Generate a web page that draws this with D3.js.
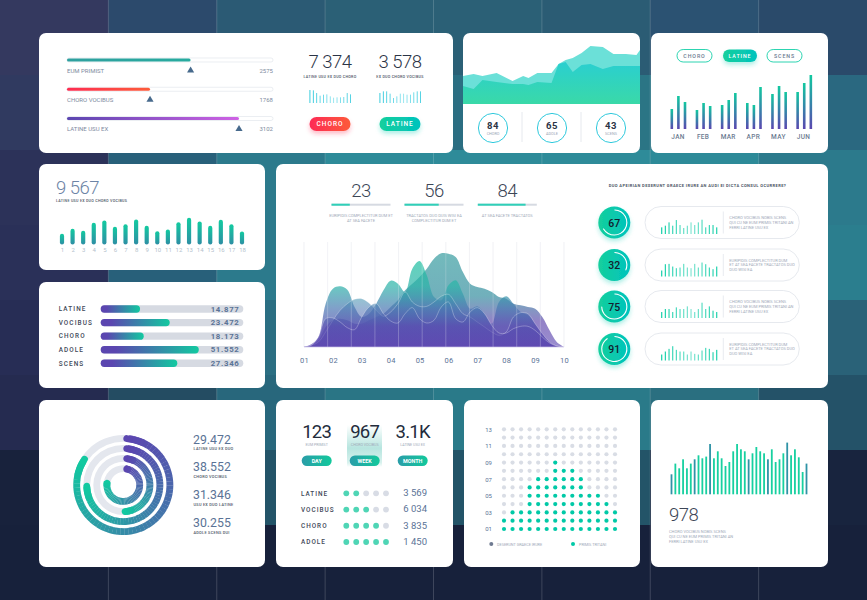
<!DOCTYPE html>
<html>
<head>
<meta charset="utf-8">
<script src="https://cdn.jsdelivr.net/npm/d3@7"></script>
<style>
  html, body { margin: 0; padding: 0; background: #1b2642; }
  svg { display: block; }
  text { font-family: Roboto, "Noto Sans", sans-serif; }
</style>
</head>
<body>
<div id="chart"></div>
<script>
// ---- data ----
const bgTiles = [
  ["#34395f", "#2c4a6c", "#2b5a74", "#2b6076", "#2b6076", "#2b5c74", "#2b5272", "#2a4a6a"],
  ["#303a60", "#2b4f6f", "#2b6279", "#2b6b80", "#2b6e82", "#2b7585", "#2b7a8a", "#2a6880"],
  ["#2c3259", "#28607a", "#2c7a8c", "#2e8b99", "#2e8b99", "#2e8b99", "#2d8a98", "#2c7a8c"],
  ["#2a3058", "#28607a", "#2c7a8c", "#2e8594", "#2e8895", "#2e8895", "#2d8592", "#2b7e8e"],
  ["#272d55", "#275a72", "#2b6e82", "#2b7a8a", "#2b7c8b", "#2b7c8b", "#2b7586", "#2a6278"],
  ["#252b50", "#244c62", "#28677c", "#2a7585", "#2a7a89", "#2a7a89", "#2a6f80", "#245268"],
  ["#18223c", "#18223c", "#235468", "#235468", "#235468", "#235468", "#18243e", "#18243e"],
  ["#17213b", "#17213b", "#17213b", "#17213b", "#17213b", "#17213b", "#17213b", "#17213b"]
];

const slideLabels = ["EUM PRIMIST", "CHORO VOCIBUS", "LATINE USU EX"];
const slideValues = [2575, 1768, 3102];
const slideFill = [60, 40.3, 83.5];
const topStats = ["7 374", "3 578"];
const topStatLabels = ["LATINE USU EX DUO CHORO", "EX DUO CHORO VOCIBUS"];
const topSparkA = [39, 38, 30, 22, 25, 26, 20, 16, 17, 17, 18, 30, 26];
const topSparkB = [30, 35, 35, 28, 15, 20, 28, 28, 25, 25, 32, 35, 35];
const topButtons = ["CHORO", "LATINE"];

const waveX = [0, 6, 11, 19, 28, 34, 37, 42, 50, 54, 58, 62, 67, 72, 79, 85, 86, 92, 98, 100];
const waveBack = [28, 30, 28, 31, 23, 28, 26, 31, 31, 40, 44, 46, 51, 58, 57, 50, 50, 50, 49, 54];
const waveFront = [18, 15, 24, 22, 20, 20, 19, 22, 21, 40, 42, 32, 39, 40, 35, 38, 38, 38, 38, 38];
const gaugeValues = [84, 65, 43];
const gaugeLabels = ["CHORO", "ADOLE", "SCENS"];

const pillLabels = ["CHORO", "LATINE", "SCENS"];
const months = ["JAN", "FEB", "MAR", "APR", "MAY", "JUN"];
const monthA = [20, 19, 24, 26, 35, 37];
const monthB = [33, 26, 29, 24, 43, 46];
const monthC = [27, 23, 36, 42, 37, 54];

const dayTotal = "9 567";
const dayTotalLabel = "LATINE USU EX DUO CHORO VOCIBUS";
const dayNumbers = d3.range(1, 19);
const dayValues = [10.7, 15.7, 13.7, 21.7, 24, 17.7, 20.3, 25, 18.7, 13.3, 15, 22.3, 26.7, 23, 18.7, 24.7, 20.3, 13];

const rankLabels = ["LATINE", "VOCIBUS", "CHORO", "ADOLE", "SCENS"];
const rankValues = ["14.877", "23.472", "18.173", "51.552", "27.346"];
const rankFill = [27.6, 48.4, 30.2, 68.8, 53.7];

const headStats = [23, 56, 84];
const headFill = [31, 58, 81];
const headCaptions = [
  ["EURIPIDIS COMPLECTITUR DUM ET", "AT SEA FACETE"],
  ["TRACTATOS DUO DUIS WISI EA", "COMPLECTITUR DUM ET"],
  ["AT SEA FACETE TRACTATOS"]
];

// main chart, sampled every quarter of an axis step
const mainTicks = ["01", "02", "03", "04", "05", "06", "07", "08", "09", "10"];
const mainU = d3.range(37).map(i => 1 + i / 4);
const mainS1 = [0, 5, 20, 60, 80, 85, 80, 70, 70, 80, 90, 100, 120, 140, 170, 190, 210, 235, 265, 281, 280, 270, 225, 190, 180, 175, 165, 150, 145, 130, 125, 120, 115, 90, 50, 15, 0];
const mainS2 = [0, 8, 30, 130, 175, 182, 172, 120, 90, 100, 130, 170, 199, 190, 165, 235, 258, 215, 150, 140, 185, 200, 160, 115, 122, 100, 70, 135, 152, 130, 105, 95, 70, 40, 15, 3, 0];
const mainS3 = [0, 5, 15, 45, 80, 110, 130, 143, 145, 132, 110, 92, 105, 130, 165, 135, 122, 122, 135, 152, 158, 130, 100, 90, 75, 60, 45, 35, 45, 90, 103, 100, 70, 40, 15, 3, 0];
const mainS4 = [0, 5, 30, 85, 87, 75, 58, 52, 90, 120, 130, 100, 78, 72, 100, 118, 85, 72, 80, 120, 135, 85, 75, 105, 118, 100, 65, 42, 42, 55, 62, 62, 50, 30, 12, 3, 0];

const question = "DUO APEIRIAN DESERUNT GRAECE IRURE AN AUDI EI DICTA CONSUL OCURRERE?";
const ringValues = [67, 32, 75, 91];
const ringSparks = [
  [20, 25, 35, 25, 42, 27, 18, 25, 35, 27, 35, 43, 20, 27, 27, 20],
  [18, 37, 38, 30, 25, 27, 38, 27, 25, 38, 27, 42, 37, 27, 22, 30],
  [18, 27, 27, 18, 32, 27, 27, 35, 27, 18, 27, 46, 27, 35, 22, 18],
  [18, 27, 35, 43, 32, 27, 27, 18, 27, 20, 18, 30, 38, 35, 25, 32]
];
const ringNotes = [
  ["CHORO VOCIBUS NOBIS SCENS", "QUI CU NE EUM PRIMIS TRITANI AN", "FERRI LATINE USU EX"],
  ["EURIPIDIS COMPLECTITUR DUM", "ET AT SEA FACETE TRACTATOS DUO", "DUO WISI EA"],
  ["CHORO VOCIBUS NOBIS SCENS", "QUI CU NE EUM PRIMIS TRITANI AN", "FERRI LATINE USU EX"],
  ["EURIPIDIS COMPLECTITUR DUM", "ET AT SEA FACETE TRACTATOS DUO", "DUO WISI EA"]
];

const donutPct = [85.5, 76, 51, 80];
const donutValues = ["29.472", "38.552", "31.346", "30.255"];
const donutLabels = ["LATINE USU EX DUO", "CHORO VOCIBUS", "USU EX DUO LATINE", "ADOLE SCENS DUI"];

const periodValues = ["123", "967", "3.1K"];
const periodLabels = ["EUM PRIMIST", "CHORO VOCIBUS", "LATINE USU EX"];
const periodNames = ["DAY", "WEEK", "MONTH"];
const scoreLabels = ["LATINE", "VOCIBUS", "CHORO", "ADOLE"];
const scoreDots = [2, 3, 4, 5];
const scoreValues = ["3 569", "6 034", "3 835", "1 450"];

const gridRows = d3.range(1, 14);
const gridCols = d3.range(14);
const gridRowLabels = ["01", "03", "05", "07", "09", "11", "13"];
const gridFrom = [0, 0, 1, 3, 3, 3, 4, 6, 6, 99, 99, 99, 99];
const gridTo = [13, 13, 13, 12, 11, 9, 9, 8, 6, -1, -1, -1, -1];
const gridLegend = ["DESERUNT GRAECE IRURE", "PRIMIS TRITANI"];

const lastValues = [20, 30.7, 26, 35, 26, 30.7, 35, 39, 36, 37.7, 50.3, 36, 43, 36, 28.3, 32.3, 43, 50.3, 45, 43, 35, 41, 47.3, 43, 41, 35, 45, 32.3, 35, 41, 51.7, 39, 45, 37, 22.3, 30.7];
const lastDark = [0, 6, 10, 20, 25, 30, 35];
const lastTotal = "978";
const lastNote = ["CHORO VOCIBUS NOBIS SCENS", "QUI CU NE EUM PRIMIS TRITANI AN", "FERRI LATINE USU EX"];

// ---- palette ----
const purple = "#5b46b0", teal = "#12c9a0", cyan = "#18c3d8", slate = "#5a7396", ink = "#2b3446", mute = "#a0a9b8", track = "#d6dae2";

const svg = d3.select("#chart").append("svg").attr("width", 867).attr("height", 600);
const defs = svg.append("defs");

function linear(id, x1, y1, x2, y2, stops, user) {
  const g = defs.append("linearGradient").attr("id", id)
    .attr("x1", x1).attr("y1", y1).attr("x2", x2).attr("y2", y2);
  if (user) g.attr("gradientUnits", "userSpaceOnUse");
  stops.forEach(s => g.append("stop").attr("offset", s[0]).attr("stop-color", s[1]).attr("stop-opacity", s[2] === undefined ? 1 : s[2]));
}
linear("g-teal-bar", 0, 0, 0, 1, [[0, "#12cba0"], [1, "#2e8ea4"]]);
linear("g-month", 0, 0, 0, 1, [[0, teal], [0.45, "#2f8fa8"], [1, purple]]);
linear("g-rank", 0, 0, 1, 0, [[0.15, purple], [1, teal]]);
linear("g-red", 0, 0, 1, 0, [[0, "#fd2a55"], [1, "#fd5a3a"]]);
linear("g-green", 0, 0, 1, 0, [[0, "#14cf9c"], [1, "#00c3be"]]);
linear("g-slide0", 0, 0, 1, 0, [[0, "#2fa09f"], [1, "#27ab9f"]]);
linear("g-slide1", 0, 0, 1, 0, [[0, "#fd2c50"], [1, "#fd5c3a"]]);
linear("g-slide2", 0, 0, 1, 0, [[0, purple], [1, "#cf62e4"]]);
linear("g-wave", 0, 0, 0, 1, [[0, "#2acfd0"], [1, "#3ad9a8"]]);
linear("g-period", 0, 0, 0, 1, [[0, "#ffffff"], [0.55, "#b7e5df"], [0.9, "#d8f2ee"], [1, "#ffffff"]]);
linear("g-btn", 0, 0, 1, 0, [[0, "#2a9da8"], [1, "#12c99c"]]);
linear("g-main-back", 0, 245, 0, 347, [[0, "#1d9393"], [0.5, "#1a7f92"], [0.75, "#5136a5"], [1, purple]], true);
linear("g-main", 0, 245, 0, 347, [[0, "#12c79a"], [0.4, "#2bb3a8"], [0.62, "#4a78b2"], [0.8, "#5650b0"], [1, purple]], true);

const shadow = defs.append("filter").attr("id", "soft").attr("x", "-30%").attr("y", "-30%").attr("width", "160%").attr("height", "190%");
shadow.append("feDropShadow").attr("dx", 0).attr("dy", 3).attr("stdDeviation", 2).attr("flood-color", "#2ad3bd").attr("flood-opacity", 0.35);
const shadowRed = defs.append("filter").attr("id", "soft-red").attr("x", "-30%").attr("y", "-30%").attr("width", "160%").attr("height", "190%");
shadowRed.append("feDropShadow").attr("dx", 0).attr("dy", 3).attr("stdDeviation", 2).attr("flood-color", "#fd2c50").attr("flood-opacity", 0.3);

function label(g, x, y, str, size, color, opt) {
  opt = opt || {};
  return g.append("text").attr("x", x).attr("y", y).attr("dy", "0.35em")
    .attr("text-anchor", opt.anchor || "start")
    .attr("font-size", size).attr("font-weight", opt.weight || 400)
    .attr("letter-spacing", opt.spacing || 0)
    .attr("fill", color).text(str);
}

// ---- background tiles ----
const bgX = d3.scaleBand().domain(d3.range(8)).range([0, 867]);
const bgY = d3.scaleBand().domain(d3.range(8)).range([0, 600]);
bgTiles.forEach((row, r) => {
  svg.append("g").selectAll("rect").data(row).enter().append("rect")
    .attr("x", (d, c) => bgX(c)).attr("y", bgY(r))
    .attr("width", bgX.bandwidth() + 0.5).attr("height", bgY.bandwidth() + 0.5)
    .attr("fill", d => d);
});
svg.append("g").selectAll("line").data(d3.range(1, 8)).enter().append("line")
  .attr("x1", d => bgX(d)).attr("x2", d => bgX(d)).attr("y1", 0).attr("y2", 600)
  .attr("stroke", "#fff").attr("stroke-opacity", 0.22).attr("stroke-width", 0.8);

// ---- cards ----
const cardBoxes = [
  [39, 33, 414, 120], [463, 33, 177, 120], [651, 33, 177, 120],
  [39, 164, 226, 106], [39, 282, 226, 106], [276, 164, 552, 224],
  [39, 400, 226, 167], [276, 400, 177, 167], [464, 400, 176, 167], [651, 400, 177, 167]
];
svg.append("g").selectAll("rect").data(cardBoxes).enter().append("rect")
  .attr("x", d => d[0]).attr("y", d => d[1]).attr("width", d => d[2]).attr("height", d => d[3])
  .attr("rx", 7).attr("fill", "#fff");

// ---- card 1: sliders and two stats ----
const c1 = svg.append("g");
const slideX = d3.scaleLinear().domain([0, 100]).range([67, 273]);
const slideY = d3.scalePoint().domain(slideLabels).range([60, 118.5]);
slideLabels.forEach((name, i) => {
  const y = slideY(name);
  c1.append("rect").attr("x", slideX(0)).attr("y", y - 2).attr("width", slideX(100) - slideX(0)).attr("height", 4)
    .attr("rx", 2).attr("fill", "#fff").attr("stroke", "#e3e6ec").attr("stroke-width", 0.7);
  c1.append("rect").attr("x", slideX(0)).attr("y", y - 1.6).attr("width", slideX(slideFill[i]) - slideX(0)).attr("height", 3.2)
    .attr("rx", 1.6).attr("fill", "url(#g-slide" + i + ")");
  label(c1, slideX(0), y + 10.5, name, 6, "#7e8ba0");
  label(c1, slideX(100), y + 10.5, slideValues[i], 6, "#7e8ba0", { anchor: "end" });
  const tx = slideX(slideFill[i]);
  c1.append("path").attr("transform", "translate(" + tx + "," + (y + 10.5) + ")")
    .attr("d", d3.symbol(d3.symbolTriangle, 22)).attr("fill", "#476a8c");
});
const topStatX = [330, 400];
topStats.forEach((s, i) => {
  const x = topStatX[i];
  label(c1, x, 62, s, 18.5, ink, { anchor: "middle", weight: 300, spacing: -0.5 });
  label(c1, x, 76.5, topStatLabels[i], 3.7, "#4b5565", { anchor: "middle", weight: 500, spacing: 0.25 });
  const spark = i === 0 ? topSparkA : topSparkB;
  const sx = d3.scaleBand().domain(d3.range(spark.length)).range([x - 20.5, x + 21]).paddingInner(0.75);
  const sy = d3.scaleLinear().domain([0, 39]).range([103, 90]);
  c1.append("g").selectAll("rect").data(spark).enter().append("rect")
    .attr("x", (d, j) => sx(j)).attr("y", d => sy(d)).attr("width", sx.bandwidth()).attr("height", d => 103 - sy(d))
    .attr("fill", (d, j) => d3.interpolateRgb(cyan, "#8ae2ee")(1 - Math.abs(j - 7) / 7));
  c1.append("rect").attr("x", x - 20.5).attr("y", 117).attr("width", 41).attr("height", 14).attr("rx", 7)
    .attr("fill", i === 0 ? "url(#g-red)" : "url(#g-green)")
    .attr("filter", i === 0 ? "url(#soft-red)" : "url(#soft)");
  label(c1, x, 123.8, topButtons[i], 6.5, "#fff", { anchor: "middle", weight: 500, spacing: 1 });
});

// ---- card 2: stacked wave and gauges ----
const c2 = svg.append("g");
c2.append("clipPath").attr("id", "clip-wave").append("rect").attr("x", 463).attr("y", 33).attr("width", 177).attr("height", 80);
const waveSx = d3.scaleLinear().domain([0, 100]).range([463, 640]);
const waveSy = d3.scaleLinear().domain([0, 60]).range([104, 44]);
const waveArea = vals => d3.area().x((d, i) => waveSx(waveX[i])).y0(waveSy(0)).y1(d => waveSy(d))(vals);
c2.append("path").attr("d", waveArea(waveBack)).attr("fill", "#6be0d8").attr("clip-path", "url(#clip-wave)");
c2.append("path").attr("d", waveArea(waveFront)).attr("fill", "url(#g-wave)").attr("clip-path", "url(#clip-wave)");
const gaugeX = d3.scalePoint().domain(gaugeLabels).range([493, 611]);
gaugeLabels.forEach((name, i) => {
  const x = gaugeX(name);
  c2.append("circle").attr("cx", x).attr("cy", 128).attr("r", 14.6).attr("fill", "#fff").attr("stroke", cyan).attr("stroke-width", 0.9);
  label(c2, x, 126, gaugeValues[i], 9.5, ink, { anchor: "middle", weight: 700, spacing: 0.6 });
  label(c2, x, 133.5, name, 3.8, "#9aa5b5", { anchor: "middle" });
});
c2.append("g").selectAll("line").data([522, 581]).enter().append("line")
  .attr("x1", d => d).attr("x2", d => d).attr("y1", 112).attr("y2", 142).attr("stroke", "#dfe3ea").attr("stroke-width", 0.8);

// ---- card 3: grouped bars ----
const c3 = svg.append("g");
const pillBoxes = [[677, 35], [723, 34], [767, 35]];
pillLabels.forEach((name, i) => {
  const on = name === "LATINE";
  c3.append("rect").attr("x", pillBoxes[i][0]).attr("y", 49.5).attr("width", pillBoxes[i][1]).attr("height", 12.5).attr("rx", 6.2)
    .attr("fill", on ? "url(#g-green)" : "#fff").attr("stroke", on ? "none" : "#14cfa8").attr("stroke-width", 0.9)
    .attr("filter", on ? "url(#soft)" : null);
  label(c3, pillBoxes[i][0] + pillBoxes[i][1] / 2, 55.8, name, 5.3, on ? "#fff" : "#6b7a90", { anchor: "middle", weight: 500, spacing: 0.9 });
});
const monthX = d3.scaleBand().domain(months).range([667, 818]).paddingInner(0).paddingOuter(0);
const monthSub = d3.scaleBand().domain([0, 1, 2]).range([0, 16.5]).paddingInner(0.5);
const monthY = d3.scaleLinear().domain([0, 54]).range([129, 75]);
months.forEach((m, i) => {
  const gx = monthX(m) + 3.5;
  [monthA[i], monthB[i], monthC[i]].forEach((v, j) => {
    c3.append("rect").attr("x", gx + monthSub(j)).attr("y", monthY(v))
      .attr("width", 2.6).attr("height", 129 - monthY(v)).attr("fill", "url(#g-month)");
  });
});
const monthAxis = c3.append("g").attr("transform", "translate(0,134)")
  .call(d3.axisBottom(d3.scalePoint().domain(months).range([677.5, 803])).tickSize(0).tickPadding(0));
monthAxis.select(".domain").remove();
monthAxis.selectAll("text").attr("font-size", 6.5).attr("font-weight", 500).attr("fill", "#6b7a90").attr("letter-spacing", 0.3).attr("font-family", null);

// ---- card 4: rounded day bars ----
const c4 = svg.append("g");
label(c4, 56, 187.5, dayTotal, 18.5, "#6d84a6", { weight: 300, spacing: -0.5 });
label(c4, 56, 200.5, dayTotalLabel, 3.7, "#4b5565", { weight: 500, spacing: 0.25 });
const dayX = d3.scalePoint().domain(dayNumbers).range([62, 242]);
const dayY = d3.scaleLinear().domain([0, 26.7]).range([244.5, 217.8]);
c4.append("g").selectAll("rect").data(dayValues).enter().append("rect")
  .attr("x", (d, i) => dayX(i + 1) - 2.1).attr("y", d => dayY(d)).attr("width", 4.2).attr("height", d => 244.5 - dayY(d))
  .attr("rx", 2.1).attr("fill", "url(#g-teal-bar)");
const dayAxis = c4.append("g").attr("transform", "translate(0,248)")
  .call(d3.axisBottom(dayX).tickSize(0).tickPadding(0));
dayAxis.select(".domain").remove();
dayAxis.selectAll("text").attr("font-size", 6).attr("fill", "#b4bfcc").attr("font-family", null);

// ---- card 5: ranking bars ----
const c5 = svg.append("g");
const rankX = d3.scaleLinear().domain([0, 100]).range([100.7, 243.3]);
const rankY = d3.scalePoint().domain(rankLabels).range([309, 363.3]);
rankLabels.forEach((name, i) => {
  const y = rankY(name);
  label(c5, 58.7, y, name, 6.4, "#3e4858", { weight: 500, spacing: 1.1 });
  c5.append("rect").attr("x", rankX(0)).attr("y", y - 3.7).attr("width", rankX(100) - rankX(0)).attr("height", 7.4).attr("rx", 3.7).attr("fill", track);
  c5.append("rect").attr("x", rankX(0)).attr("y", y - 3.7).attr("width", rankX(rankFill[i]) - rankX(0)).attr("height", 7.4).attr("rx", 3.7).attr("fill", "url(#g-rank)");
  label(c5, 239.5, y, rankValues[i], 7.8, slate, { anchor: "end", weight: 700, spacing: 0.7 });
});

// ---- card 6: main chart ----
const c6 = svg.append("g");
const headX = [361, 434, 507.3];
const headBar = d3.scaleLinear().domain([0, 100]).range([0, 59]);
headStats.forEach((v, i) => {
  const x = headX[i];
  label(c6, x, 190.5, v, 18.5, "#3c4656", { anchor: "middle", weight: 300, spacing: -0.5 });
  c6.append("rect").attr("x", x - 29.5).attr("y", 203.7).attr("width", headBar(100)).attr("height", 2).attr("fill", track);
  c6.append("rect").attr("x", x - 29.5).attr("y", 203.7).attr("width", headBar(headFill[i])).attr("height", 2).attr("fill", "#2fd0b8");
  headCaptions[i].forEach((line, j) => label(c6, x, 215.7 + j * 5, line, 4, mute, { anchor: "middle" }));
});
const mainX = d3.scaleLinear().domain([1, 10]).range([304, 564]);
const mainY = d3.scaleLinear().domain([0, 300]).range([347, 247]);
const gridX = d3.scaleLinear().domain([0, 11]).range([304, 564]);
const mainArea = d3.area().x((d, i) => mainX(mainU[i])).y0(mainY(0)).y1(d => mainY(d)).curve(d3.curveCatmullRom.alpha(0.5));
const mainLine = d3.line().x((d, i) => mainX(mainU[i])).y(d => mainY(d)).curve(d3.curveCatmullRom.alpha(0.5));
c6.append("g").selectAll("line").data(d3.range(12)).enter().append("line")
  .attr("x1", d => gridX(d)).attr("x2", d => gridX(d)).attr("y1", 242).attr("y2", 347)
  .attr("stroke", "#e8eaef").attr("stroke-width", 0.7);
[mainS1, mainS2, mainS3, mainS4].forEach((s, i) => {
  c6.append("path").attr("d", mainArea(s)).attr("fill", i === 0 ? "url(#g-main-back)" : "url(#g-main)").attr("fill-opacity", [0.62, 0.7, 0.55, 0.6][i]);
  if (i > 1) c6.append("path").attr("d", mainLine(s)).attr("fill", "none").attr("stroke", "#fff").attr("stroke-opacity", 0.4).attr("stroke-width", 0.7);
});
c6.append("g").selectAll("line").data(d3.range(1, 11)).enter().append("line")
  .attr("x1", d => gridX(d)).attr("x2", d => gridX(d)).attr("y1", 242).attr("y2", 347)
  .attr("stroke", "#fff").attr("stroke-opacity", 0.35).attr("stroke-width", 0.7);
c6.append("line").attr("x1", 304).attr("x2", 564).attr("y1", 347).attr("y2", 347).attr("stroke", "#c9c2e6").attr("stroke-width", 0.7);
const mainAxis = c6.append("g").attr("transform", "translate(0,357.5)")
  .call(d3.axisBottom(mainX).tickValues(d3.range(1, 11)).tickFormat((d, i) => mainTicks[i]).tickSize(0).tickPadding(0));
mainAxis.select(".domain").remove();
mainAxis.selectAll("text").attr("font-size", 7.5).attr("fill", slate).attr("letter-spacing", 0.2).attr("font-family", null);

label(c6, 697.5, 186, question, 4, "#4b5565", { anchor: "middle", weight: 700, spacing: 0.42 });
const ringY = d3.scaleOrdinal().domain(d3.range(4)).range([222.5, 265, 306.5, 349]);
const ringArc = d3.arc().innerRadius(12).outerRadius(13.1).cornerRadius(0.5);
const ringAngle = d3.scaleLinear().domain([0, 100]).range([0, 2 * Math.PI]);
ringValues.forEach((v, i) => {
  const y = ringY(i);
  c6.append("circle").attr("cx", 614.3).attr("cy", y).attr("r", 16).attr("fill", "url(#g-green)").attr("filter", "url(#soft)");
  c6.append("path").attr("transform", "translate(614.3," + y + ")")
    .attr("d", ringArc({ startAngle: 0, endAngle: ringAngle(v) })).attr("fill", "#fff");
  label(c6, 614.3, y + 0.4, v, 10.5, "#12212f", { anchor: "middle", weight: 500 });
  c6.append("rect").attr("x", 645).attr("y", y - 16).attr("width", 154.3).attr("height", 32).attr("rx", 16)
    .attr("fill", "none").attr("stroke", "#e0e3ea").attr("stroke-width", 0.8);
  const sx = d3.scalePoint().domain(d3.range(16)).range([661.7, 716.7]);
  const sy = d3.scaleLinear().domain([0, 46]).range([y + 11.5, y - 3.8]);
  c6.append("g").selectAll("rect").data(ringSparks[i]).enter().append("rect")
    .attr("x", (d, j) => sx(j) - 0.6).attr("y", d => sy(d)).attr("width", 1.2).attr("height", d => y + 11.5 - sy(d))
    .attr("fill", (d, j) => d3.interpolateRgb("#14cfa8", "#84e5d3")(1 - Math.abs(j - 8) / 8));
  c6.append("line").attr("x1", 723.3).attr("x2", 723.3).attr("y1", y - 11).attr("y2", y + 11).attr("stroke", "#e0e3ea").attr("stroke-width", 0.7);
  ringNotes[i].forEach((line, j) => label(c6, 729.3, y - 4.7 + j * 4.7, line, 4, mute));
});

// ---- card 7: radial bars ----
const c7 = svg.append("g").attr("transform", "translate(123.3,485)");
const donutOuter = [50, 40, 30, 19.8];
const donutAngle = d3.scaleLinear().domain([0, 100]).range([0, 2 * Math.PI]);
const donutColor = d3.scaleLinear().domain([0, 0.5, 1]).range([purple, "#3d7fa9", teal]);
donutPct.forEach((pct, i) => {
  const outer = donutOuter[i], inner = outer - 6.8;
  const base = d3.arc().innerRadius(inner).outerRadius(outer);
  c7.append("path").attr("d", base({ startAngle: 0, endAngle: 2 * Math.PI })).attr("fill", "#e4e7ee");
  // round caps, then a strip of short pieces so the colour follows the ring
  const cap = d3.arc().innerRadius(inner).outerRadius(outer).cornerRadius(3.4);
  const end = donutAngle(pct);
  c7.append("path").attr("d", cap({ startAngle: 0, endAngle: 0.5 })).attr("fill", donutColor(0));
  c7.append("path").attr("d", cap({ startAngle: end - 0.5, endAngle: end })).attr("fill", donutColor(1));
  const n = 60;
  c7.append("g").selectAll("path").data(d3.range(n)).enter().append("path")
    .attr("d", j => base({ startAngle: 0.12 + (end - 0.24) * j / n, endAngle: 0.12 + (end - 0.24) * (j + 1) / n + 0.004 }))
    .attr("fill", j => donutColor(j / (n - 1)));
});
const c7t = svg.append("g");
const donutTextY = d3.scaleOrdinal().domain(d3.range(4)).range([439.3, 466.7, 494.7, 522.7]);
donutValues.forEach((v, i) => {
  label(c7t, 193, donutTextY(i), v, 12.3, slate);
  label(c7t, 193.5, donutTextY(i) + 9.7, donutLabels[i], 3.9, "#4b5565", { weight: 500, spacing: 0.25 });
});

// ---- card 8: periods and dot scores ----
const c8 = svg.append("g");
c8.append("rect").attr("x", 347).attr("y", 425).attr("width", 35).attr("height", 42).attr("fill", "url(#g-period)");
const periodX = d3.scalePoint().domain(periodNames).range([316.7, 412.7]);
periodNames.forEach((name, i) => {
  const x = periodX(name);
  label(c8, x, 431.5, periodValues[i], 18.5, "#232c3c", { anchor: "middle", spacing: -0.7 });
  label(c8, x, 444.5, periodLabels[i], 3.6, mute, { anchor: "middle" });
  c8.append("rect").attr("x", x - 15).attr("y", 455.5).attr("width", 30).attr("height", 10.4).attr("rx", 5.2).attr("fill", "url(#g-btn)");
  label(c8, x, 461, name, 5.4, "#fff", { anchor: "middle", weight: 700 });
});
const scoreY = d3.scalePoint().domain(scoreLabels).range([493.3, 542]);
const scoreX = d3.scalePoint().domain(d3.range(5)).range([346.3, 386]);
scoreLabels.forEach((name, i) => {
  const y = scoreY(name);
  label(c8, 301, y, name, 6.4, "#3e4858", { weight: 500, spacing: 1 });
  c8.append("g").selectAll("circle").data(d3.range(5)).enter().append("circle")
    .attr("cx", d => scoreX(d)).attr("cy", y).attr("r", 2.9)
    .attr("fill", d => d < scoreDots[i] ? "#4fd5b5" : "#d8dce5");
  label(c8, 427, y - 0.5, scoreValues[i], 9.5, slate, { anchor: "end" });
});

// ---- card 9: dot matrix ----
const c9 = svg.append("g");
const matX = d3.scalePoint().domain(gridCols).range([504, 615]);
const matY = d3.scalePoint().domain(gridRows).range([529, 429.3]);
gridRows.forEach((row, r) => {
  c9.append("g").selectAll("circle").data(gridCols).enter().append("circle")
    .attr("cx", d => matX(d)).attr("cy", matY(row)).attr("r", 2.1)
    .attr("fill", d => d >= gridFrom[r] && d <= gridTo[r] ? "#00c9a7" : "#d9dde5");
});
const matAxis = c9.append("g").attr("transform", "translate(492,0)")
  .call(d3.axisLeft(d3.scalePoint().domain(gridRowLabels).range([529, 429.3])).tickSize(0).tickPadding(0));
matAxis.select(".domain").remove();
matAxis.selectAll("text").attr("font-size", 6).attr("fill", slate).attr("font-family", null);
c9.append("circle").attr("cx", 491.3).attr("cy", 544).attr("r", 2).attr("fill", "#6f7a91");
label(c9, 497, 544.3, gridLegend[0], 3.8, mute);
c9.append("circle").attr("cx", 573).attr("cy", 544).attr("r", 2).attr("fill", "#00c9a7");
label(c9, 579, 544.3, gridLegend[1], 3.8, mute);

// ---- card 10: dense bars ----
const c10 = svg.append("g");
const lastX = d3.scalePoint().domain(d3.range(lastValues.length)).range([671.5, 806.5]);
const lastY = d3.scaleLinear().domain([0, 51.7]).range([494.3, 442.6]);
c10.append("g").selectAll("rect").data(lastValues).enter().append("rect")
  .attr("x", (d, i) => lastX(i) - 0.9).attr("y", d => lastY(d)).attr("width", 1.8).attr("height", d => 494.3 - lastY(d))
  .attr("fill", (d, i) => lastDark.includes(i) ? "#2f93a6" : "#17d0a0");
label(c10, 669, 515, lastTotal, 18.5, "#3c4656", { weight: 300, spacing: -0.5 });
lastNote.forEach((line, j) => label(c10, 669, 531.7 + j * 4.7, line, 4, mute));
</script>
</body>
</html>
